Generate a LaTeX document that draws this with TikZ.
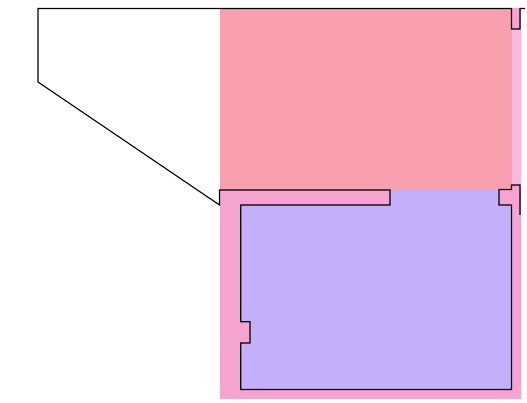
\documentclass[tikz,border=0pt]{standalone}
\definecolor{redzone}{HTML}{F9A0B0}
\definecolor{pinkzone}{HTML}{F6A3CF}
\definecolor{palestrip}{HTML}{F9B8DC}
\definecolor{purplezone}{HTML}{C4B0FA}
\tikzset{outline/.style={draw=black,line width=1.1pt,line join=miter,fill=none}}
\begin{document}
\begin{tikzpicture}[x=1pt,y=-1pt]
\useasboundingbox (0,0) rectangle (527,403);
\fill[white] (0,0) rectangle (527,403);
\fill[palestrip] (511,8.5) rectangle (521,190);
\fill[pinkzone] (511,8.5) rectangle (520,29);
\fill[redzone] (219.5,8.5) rectangle (511.5,190);
\fill[pinkzone] (219.5,190) rectangle (520.5,398.5);
\fill[pinkzone] (511.5,185) rectangle (520,190);
\fill[purplezone] (240.7,205) -- (390,205) -- (390,190) -- (499,190) -- (499,205) -- (511.5,205) -- (511.5,389.5) -- (240.7,389.5) -- (240.7,343) -- (250,343) -- (250,321.7) -- (240.7,321.7) -- cycle;
\draw[outline] (525,8.5) -- (520,8.5) -- (520,29) -- (511.5,29) -- (511.5,8.5) -- (38,8.5) -- (38,82) -- (219.5,205) -- (219.5,190) -- (390,190) -- (390,205) -- (240.7,205) -- (240.7,321.7) -- (250,321.7) -- (250,343) -- (240.7,343) -- (240.7,389.5) -- (511.5,389.5) -- (511.5,205) -- (499,205) -- (499,189.5) -- (511.5,189.5) -- (511.5,185) -- (520,185) -- (520,215);
\end{tikzpicture}
\end{document}
